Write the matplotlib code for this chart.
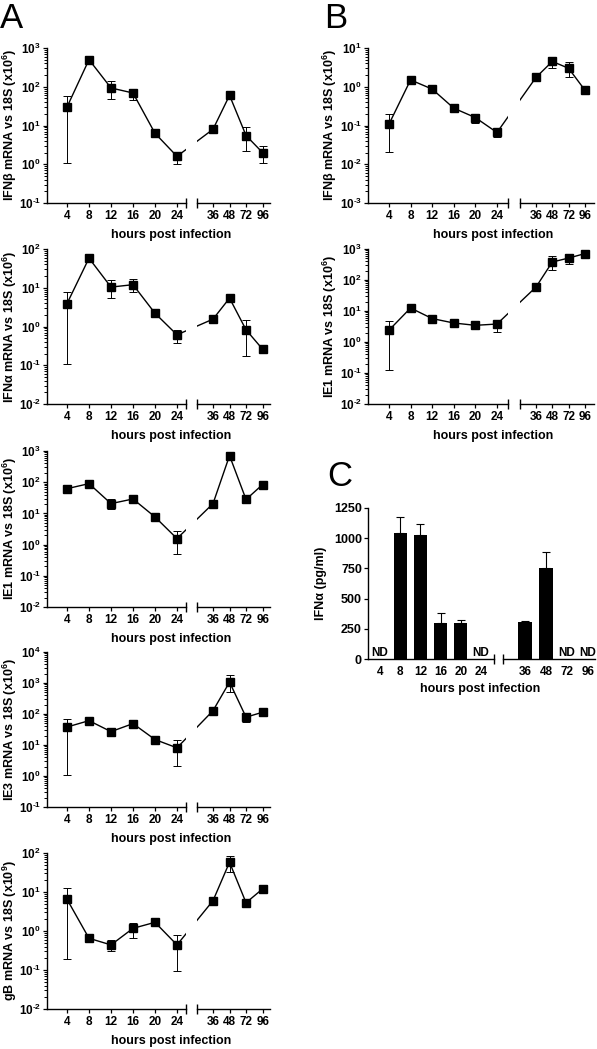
import matplotlib
matplotlib.use('Agg')
import matplotlib.pyplot as plt
import numpy as np
from matplotlib.ticker import LogLocator, FuncFormatter, NullFormatter

nan = np.nan

# x categories (hours post infection), split by the axis break
hours_early = ['4', '8', '12', '16', '20', '24']
hours_late = ['36', '48', '72', '96']

# Panel A: mRNA vs 18S, mean and error-bar ends (nan = no visible bar)
a_ifnb = [30, 500, 93, 69, 6.3, 1.6, 8.0, 60, 5.5, 2.0]
a_ifnb_lo = [1.05, nan, 47, 46, nan, 1.0, nan, 48, 2.2, 1.06]
a_ifnb_hi = [58, nan, 140, 87, nan, 2.1, nan, 70, 9.0, 3.0]

a_ifna = [3.9, 58, 10.4, 12, 2.2, 0.61, 1.55, 5.4, 0.82, 0.26]
a_ifna_lo = [0.107, nan, 5.6, 7.7, nan, 0.37, nan, 4.7, 0.17, nan]
a_ifna_hi = [7.6, nan, 15.5, 16.7, nan, 0.82, nan, 6.2, 1.5, nan]

a_ie1 = [62, 90, 20.6, 29, 7.7, 1.56, 20.6, 710, 28, 84]
a_ie1_lo = [nan, nan, 14, 24, nan, 0.5, nan, 500, nan, nan]
a_ie1_hi = [nan, nan, 29, 34, nan, 2.8, nan, 910, nan, nan]

a_ie3 = [38, 61, 27, 49, 15, 8.1, 128, 1070, 79, 114]
a_ie3_lo = [1.05, nan, 20, 35, nan, 2.1, nan, 500, 54, nan]
a_ie3_hi = [69, nan, 33, 63, nan, 14.3, nan, 1780, 108, nan]

a_gb = [6.5, 0.65, 0.44, 1.17, 1.67, 0.44, 6.0, 58, 5.3, 12]
a_gb_lo = [0.19, nan, 0.31, 0.67, nan, 0.096, nan, 33, nan, 9.8]
a_gb_hi = [13, nan, 0.59, 1.6, nan, 0.79, nan, 84, nan, 15]

# Panel B
b_ifnb = [0.108, 1.5, 0.87, 0.28, 0.16, 0.066, 1.74, 4.5, 3.0, 0.82]
b_ifnb_lo = [0.021, nan, nan, nan, 0.115, 0.051, nan, 3.0, 1.74, nan]
b_ifnb_hi = [0.196, nan, nan, nan, 0.196, 0.081, nan, 6.0, 4.4, nan]

b_ie1 = [2.4, 12.5, 5.7, 4.1, 3.45, 3.8, 59, 380, 510, 710]
b_ie1_lo = [0.128, nan, nan, nan, nan, 2.05, nan, 215, 335, nan]
b_ie1_hi = [4.6, nan, nan, nan, nan, 4.9, nan, 580, 700, nan]

# Panel C: IFNa protein (pg/ml), nan = ND
c_ifna = [nan, 1045, 1030, 296, 300, nan, 309, 750, nan, nan]
c_ifna_hi = [nan, 1178, 1117, 384, 320, nan, 313, 885, nan, nan]

plt.rcParams['font.family'] = ['Liberation Sans', 'DejaVu Sans']
plt.rcParams['font.weight'] = 'bold'
plt.rcParams['mathtext.fontset'] = 'custom'
plt.rcParams['mathtext.rm'] = 'Liberation Sans:bold'
plt.rcParams['mathtext.bf'] = 'Liberation Sans:bold'
plt.rcParams['mathtext.it'] = 'Liberation Sans:bold'

W, H = 597, 1049
fig = plt.figure(figsize=(W / 100, H / 100), dpi=100)


def rect(x0, y0, x1, y1):
    # pixel box (top-left origin) -> figure fraction
    return [x0 / W, 1 - y1 / H, (x1 - x0) / W, (y1 - y0) / H]


def decade_label(t, pos):
    e = int(round(np.log10(t)))
    # short hyphen instead of the wide math minus
    s = str(e).replace('-', '\u2010')
    return r'$\mathbf{10^{%s}}$' % s


def style_pair(ax_l, ax_r, ysize=8.5):
    for s in ['top', 'right']:
        ax_l.spines[s].set_visible(False)
    for s in ['top', 'right', 'left']:
        ax_r.spines[s].set_visible(False)
    for ax in (ax_l, ax_r):
        ax.spines['bottom'].set_linewidth(1.0)
        ax.spines['left'].set_linewidth(1.0)
        ax.tick_params(axis='both', which='major', direction='out', length=3.2, width=0.9,
                       labelsize=8.5, pad=2)
        ax.tick_params(axis='y', labelsize=ysize, pad=1.2)
        ax.tick_params(axis='y', which='minor', direction='out', length=2, width=0.7)
        ax.patch.set_visible(False)
    ax_r.tick_params(axis='y', which='both', left=False, labelleft=False)
    # break marks on the x axis
    ax_l.plot([1], [0], marker='|', ms=7, mew=1.0, color='k', transform=ax_l.transAxes, clip_on=False)
    ax_r.plot([0], [0], marker='|', ms=7, mew=1.0, color='k', transform=ax_r.transAxes, clip_on=False)


def log_panel(box_l, box_r, y0, y1, xlim_l, xlim_r, vals, lo, hi, ylim, ylabel, ylab_x, xlab_x):
    ax_l = fig.add_axes(rect(box_l[0], y0, box_l[1], y1))
    ax_r = fig.add_axes(rect(box_r[0], y0, box_r[1], y1))
    v = np.array(vals, float)
    lo = np.array(lo, float)
    hi = np.array(hi, float)
    n = len(hours_early)
    for ax, xl, sl, labels in ((ax_l, xlim_l, slice(0, n), hours_early),
                               (ax_r, xlim_r, slice(n, None), hours_late)):
        ax.set_yscale('log')
        ax.set_ylim(*ylim)
        ax.set_xlim(*xl)
        x = np.arange(len(labels))
        ax.set_xticks(x)
        ax.set_xticklabels(labels)
        ax.yaxis.set_major_locator(LogLocator(base=10, numticks=12))
        ax.yaxis.set_minor_locator(LogLocator(base=10, subs=np.arange(2, 10), numticks=12))
        ax.yaxis.set_minor_formatter(NullFormatter())
        ax.yaxis.set_major_formatter(FuncFormatter(decade_label))
        vv, ll, hh = v[sl], lo[sl], hi[sl]
        m = ~np.isnan(ll)
        if m.any():
            ax.errorbar(x[m], vv[m], yerr=[vv[m] - ll[m], hh[m] - vv[m]], fmt='none',
                        ecolor='k', elinewidth=0.7, capsize=3, capthick=0.7, zorder=2)
        ax.plot(x, vv, color='k', lw=1.0, marker='s', ms=6, zorder=3, clip_on=False)
    style_pair(ax_l, ax_r)
    # line across the break, clipped by each axes box
    x36 = ax_r.transData.transform([[0, 1]])[0][0]
    x36_in_l = ax_l.transData.inverted().transform([[x36, 1]])[0][0]
    x24 = ax_l.transData.transform([[n - 1, 1]])[0][0]
    x24_in_r = ax_r.transData.inverted().transform([[x24, 1]])[0][0]
    ax_l.plot([n - 1, x36_in_l], [v[n - 1], v[n]], color='k', lw=1.0, zorder=3)
    ax_r.plot([x24_in_r, 0], [v[n - 1], v[n]], color='k', lw=1.0, zorder=3)
    fig.text(ylab_x / W, 1 - (y0 + y1) / 2 / H, ylabel, rotation=90, ha='center', va='center',
             fontsize=9, fontweight='bold')
    fig.text(xlab_x / W, 1 - (y1 + 32) / H, 'hours post infection', ha='center', va='center',
             fontsize=9, fontweight='bold')


# column geometry (pixels)
A_l, A_r = (47, 186), (197, 270)
A_xl, A_xr = (-0.91, 5.41), (-0.97, 3.45)
B_l, B_r = (368, 508), (520, 594)
B_xl, B_xr = (-0.97, 5.51), (-0.98, 3.56)

log_panel(A_l, A_r, 48, 203, A_xl, A_xr, a_ifnb, a_ifnb_lo, a_ifnb_hi, (0.1, 1e3),
          'IFNβ mRNA vs 18S (x10$^{6}$)', 10, 171)
log_panel(A_l, A_r, 249, 404, A_xl, A_xr, a_ifna, a_ifna_lo, a_ifna_hi, (0.01, 1e2),
          'IFNα mRNA vs 18S (x10$^{6}$)', 10, 171)
log_panel(A_l, A_r, 451, 607, A_xl, A_xr, a_ie1, a_ie1_lo, a_ie1_hi, (0.01, 1e3),
          'IE1 mRNA vs 18S (x10$^{6}$)', 10, 171)
log_panel(A_l, A_r, 652, 807, A_xl, A_xr, a_ie3, a_ie3_lo, a_ie3_hi, (0.1, 1e4),
          'IE3 mRNA vs 18S (x10$^{6}$)', 10, 171)
log_panel(A_l, A_r, 853, 1009, A_xl, A_xr, a_gb, a_gb_lo, a_gb_hi, (0.01, 1e2),
          'gB mRNA vs 18S (x10$^{9}$)', 10, 171)

log_panel(B_l, B_r, 48, 203, B_xl, B_xr, b_ifnb, b_ifnb_lo, b_ifnb_hi, (1e-3, 10),
          'IFNβ mRNA vs 18S (x10$^{6}$)', 330, 493)
log_panel(B_l, B_r, 249, 404, B_xl, B_xr, b_ie1, b_ie1_lo, b_ie1_hi, (0.01, 1e3),
          'IE1 mRNA vs 18S (x10$^{6}$)', 330, 493)

# Panel C: bar chart
c_top, c_bot = 508, 659
ax_cl = fig.add_axes(rect(368, c_top, 494, c_bot))
ax_cr = fig.add_axes(rect(503, c_top, 595, c_bot))
vals = np.array(c_ifna, float)
errs = np.array(c_ifna_hi, float)
n = len(hours_early)
for ax, xl, sl, labels in ((ax_cl, (-0.6, 5.65), slice(0, n), hours_early),
                           (ax_cr, (-1.05, 3.33), slice(n, None), hours_late)):
    x = np.arange(len(labels))
    vv, ee = vals[sl], errs[sl]
    m = ~np.isnan(vv)
    ax.errorbar(x[m], vv[m], yerr=[np.zeros(m.sum()), ee[m] - vv[m]], fmt='none',
                ecolor='k', elinewidth=0.8, capsize=3, capthick=0.8, zorder=1)
    ax.bar(x[m], vv[m], width=0.65, color='k', zorder=2)
    for xi in x[~m]:
        ax.text(xi, 0, 'ND', ha='center', va='bottom', fontsize=8.5, fontweight='bold')
    ax.set_xlim(*xl)
    ax.set_ylim(0, 1250)
    ax.set_xticks(x)
    ax.set_xticklabels(labels)
    ax.set_yticks([0, 250, 500, 750, 1000, 1250])
style_pair(ax_cl, ax_cr, ysize=9)
ax_cl.tick_params(axis='x', length=0, pad=5)
ax_cr.tick_params(axis='x', length=0, pad=5)
fig.text(321 / W, 1 - (c_top + c_bot) / 2 / H, 'IFNα (pg/ml)', rotation=90, ha='center',
         va='center', fontsize=9, fontweight='bold')
fig.text(480 / W, 1 - 689 / H, 'hours post infection', ha='center', va='center',
         fontsize=9, fontweight='bold')

# panel letters
fig.text(0 / W, 1 - 2 / H, 'A', fontsize=25, fontweight='normal', ha='left', va='top')
fig.text(324 / W, 1 - 2 / H, 'B', fontsize=25, fontweight='normal', ha='left', va='top')
fig.text(327 / W, 1 - 460 / H, 'C', fontsize=25, fontweight='normal', ha='left', va='top')

fig.savefig('out.png', dpi=100, facecolor='white')
